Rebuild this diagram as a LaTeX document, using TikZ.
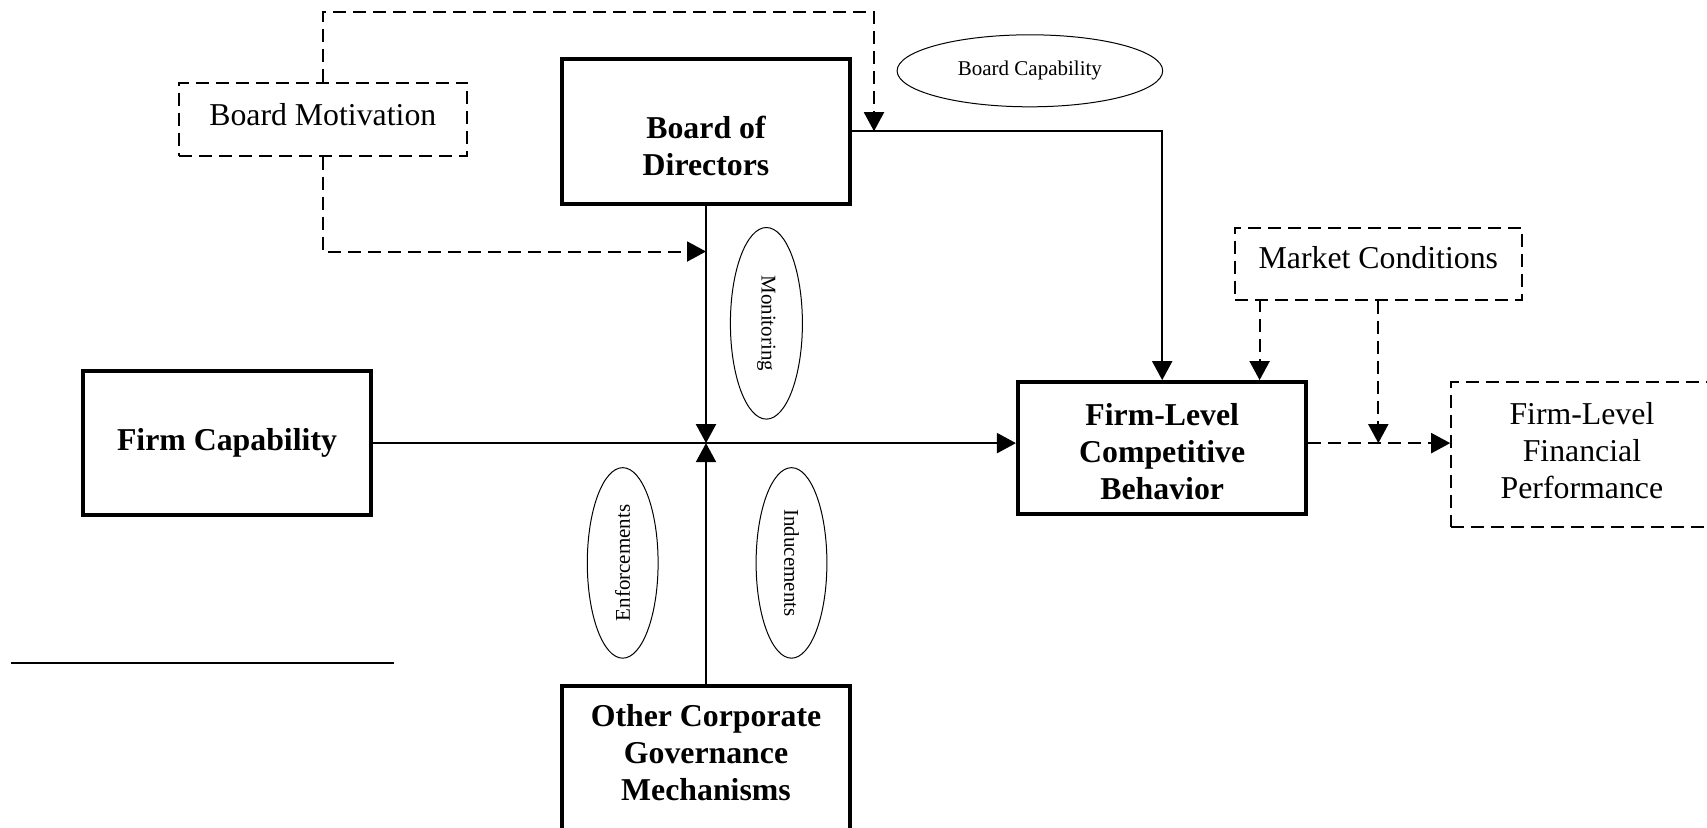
\documentclass[tikz,border=0pt]{standalone}
\usepackage{fontspec}
\setmainfont{Liberation Serif}
\usetikzlibrary{arrows.meta,shapes.geometric}
\begin{document}
\begin{tikzpicture}[x=0.5pt,y=-0.5pt,
  thickbox/.style={draw,line width=2pt,minimum width=144.25pt,inner sep=0pt,align=center,font=\fontsize{15.9}{18.5}\selectfont\bfseries},
  dashbox/.style={draw,line width=1pt,dash pattern=on 6.5pt off 3.5pt,inner sep=0pt,align=center,font=\fontsize{15.9}{18.5}\selectfont},
  oval/.style={draw,ellipse,line width=0.5pt,inner sep=0pt,font=\fontsize{10.5}{12}\selectfont},
  btext/.style={align=center,inner sep=0pt,font=\fontsize{15.9}{18.5}\selectfont\bfseries},
  ntext/.style={align=center,inner sep=0pt,font=\fontsize{15.9}{18.5}\selectfont},
  tip/.style={-{Triangle[length=9.5pt,width=10pt]}},
  conn/.style={line width=1pt,tip},
  dconn/.style={line width=1pt,dash pattern=on 6.5pt off 3.5pt,tip}
]
\useasboundingbox (0,0) rectangle (1707,827);
\clip (0,0) rectangle (1707,827);

% boxes
\node[dashbox,minimum width=144.25pt,minimum height=36.5pt] (bm) at (322.8,119.2) {};
\node[ntext] (bmt) at (322.8,114.3) {Board Motivation};
\node[thickbox,minimum height=72.4pt] (bod) at (706,131.2) {};
\node[btext] (bodt) at (706,145.9) {Board of\\Directors};
\node[oval,minimum width=132.8pt,minimum height=36pt] (bc) at (1029.9,70.8) {Board Capability};
\node[oval,rotate=-90,minimum width=95.8pt,minimum height=36pt] (mon) at (766.4,323.3) {Monitoring};
\node[thickbox,minimum height=71.9pt] (fc) at (227,443.1) {Firm Capability};
\node[oval,rotate=90,minimum width=95.25pt,minimum height=35.4pt] (enf) at (622.7,562.9) {Enforcements};
\node[oval,rotate=-90,minimum width=95.25pt,minimum height=35.4pt] (ind) at (791.5,562.9) {Inducements};
\node[thickbox,minimum height=83pt,anchor=north] (ocgm) at (706,683.7) {};
\node[btext] (ocgmt) at (706,752.3) {Other Corporate\\Governance\\Mechanisms};
\node[thickbox,minimum height=65.9pt] (flcb) at (1162.2,448) {};
\node[btext] (flcbt) at (1162.2,451.2) {Firm-Level\\Competitive\\Behavior};
\node[dashbox,minimum width=143.7pt,minimum height=36pt] (mc) at (1378.3,263.5) {};
\node[ntext] (mct) at (1378.3,258) {Market Conditions};
\node[dashbox,minimum width=130.7pt,minimum height=72.4pt] (flfp) at (1581.9,454.5) {};
\node[ntext] (flfpt) at (1581.9,450.6) {Firm-Level\\Financial\\Performance};

% coordinates
\coordinate (cross) at (bod.south |- fc.east);
\coordinate (topr) at (874,12);
\coordinate (bmj) at (706,251.5);
\coordinate (mca) at (1259.6,299.4);
\coordinate (fnA) at (10.9,663);
\coordinate (fnB) at (394.1,663);

% solid connectors
\draw[conn] (bod.south) -- (cross);
\draw[conn] (ocgm.north) -- (cross);
\draw[conn] (fc.east) -- (flcb.west |- fc.east);
\draw[conn] (bod.east) -| (flcb.north);

% dashed connectors
\draw[dconn] (bm.north) |- (topr) -- (topr |- bod.east);
\draw[dconn] (bm.south) |- (bmj);
\draw[dconn] (mca) -- (mca |- flcb.north);
\draw[dconn] (mc.south) -- (mc.south |- fc.east);
\draw[dconn] (flcb.east |- fc.east) -- (flfp.west |- fc.east);

% footnote rule
\draw[line width=1.2pt] (fnA) -- (fnB);
\end{tikzpicture}
\end{document}
